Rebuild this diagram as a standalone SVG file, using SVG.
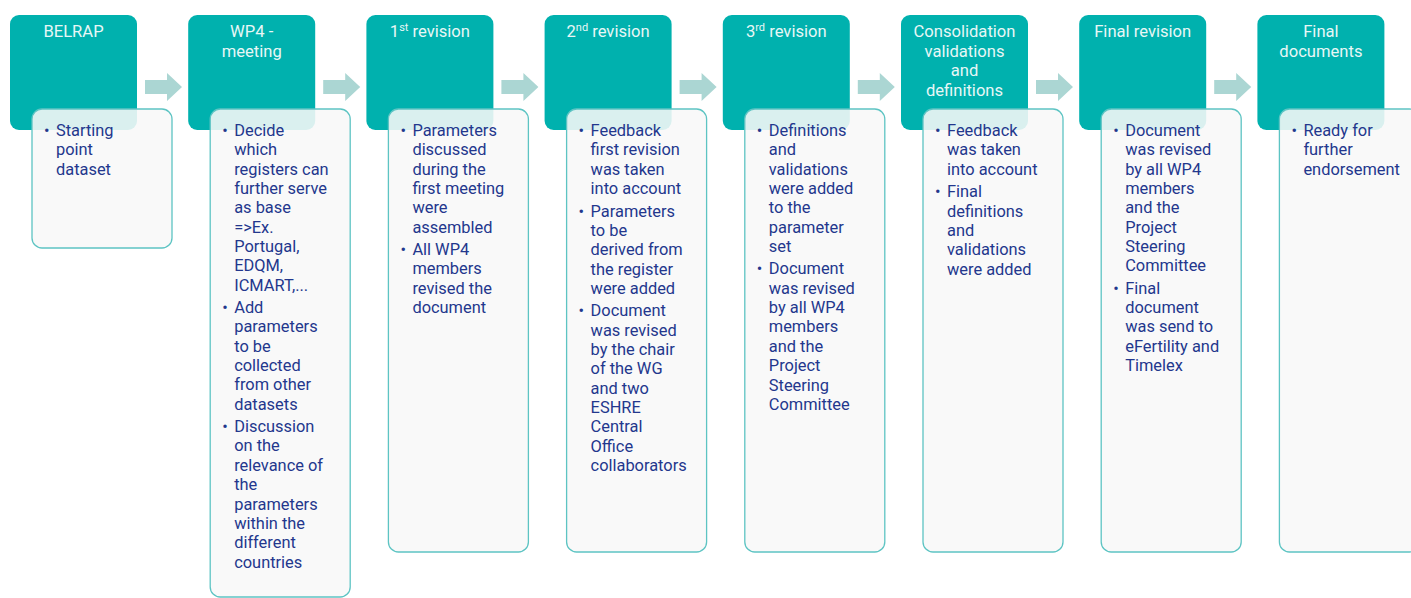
<svg xmlns="http://www.w3.org/2000/svg" width="1411" height="598" viewBox="0 0 1411 598">
<defs>
<style>
.bg{fill:#ffffff}
.head{fill:#00b1ae}
.card{fill:#f8f8f8;fill-opacity:0.88;stroke:#5dc4c3;stroke-width:1.3}
.arrow{fill:#abd6d3}
.title{font-family:Roboto,"Open Sans",sans-serif;font-size:16.6px;fill:#e8f7f6;text-anchor:middle}
.body{font-family:Roboto,"Open Sans",sans-serif;font-size:16.4px;fill:#23378d}
</style>
</defs>
<rect class="bg" x="0" y="0" width="1411" height="598"/>

<g id="connectors">
<path class="arrow" d="M145,80 H167 V73 L182,87 L167,101 V94 H145 Z"/>
<path class="arrow" d="M323.2,80 H345.2 V73 L360.2,87 L345.2,101 V94 H323.2 Z"/>
<path class="arrow" d="M501.4,80 H523.4 V73 L538.4,87 L523.4,101 V94 H501.4 Z"/>
<path class="arrow" d="M679.6,80 H701.6 V73 L716.6,87 L701.6,101 V94 H679.6 Z"/>
<path class="arrow" d="M857.8,80 H879.8 V73 L894.8,87 L879.8,101 V94 H857.8 Z"/>
<path class="arrow" d="M1036,80 H1058 V73 L1073,87 L1058,101 V94 H1036 Z"/>
<path class="arrow" d="M1214.2,80 H1236.2 V73 L1251.2,87 L1236.2,101 V94 H1214.2 Z"/>
</g>

<g id="belrap">
<rect class="head" x="10" y="15" width="127" height="115" rx="9"/>
<rect class="card" x="32" y="109" width="140" height="139" rx="10"/>
<text class="title" x="73.5" y="37">BELRAP</text>
<text class="body" x="44" y="136">•</text>
<text class="body" y="136"><tspan x="56">Starting</tspan><tspan x="56" dy="19.35">point</tspan><tspan x="56" dy="19.35">dataset</tspan></text>
</g>

<g id="wp4-meeting">
<rect class="head" x="188.2" y="15" width="127" height="115" rx="9"/>
<rect class="card" x="210.2" y="109" width="140" height="488" rx="10"/>
<text class="title" y="37"><tspan x="251.7">WP4 -</tspan><tspan x="251.7" dy="19.5">meeting</tspan></text>
<text class="body" x="222.2" y="136">•</text>
<text class="body" y="136"><tspan x="234.2">Decide</tspan><tspan x="234.2" dy="19.35">which</tspan><tspan x="234.2" dy="19.35">registers can</tspan><tspan x="234.2" dy="19.35">further serve</tspan><tspan x="234.2" dy="19.35">as base</tspan><tspan x="234.2" dy="19.35">=&gt;Ex.</tspan><tspan x="234.2" dy="19.35">Portugal,</tspan><tspan x="234.2" dy="19.35">EDQM,</tspan><tspan x="234.2" dy="19.35">ICMART,...</tspan></text>
<text class="body" x="222.2" y="313">•</text>
<text class="body" y="313"><tspan x="234.2">Add</tspan><tspan x="234.2" dy="19.35">parameters</tspan><tspan x="234.2" dy="19.35">to be</tspan><tspan x="234.2" dy="19.35">collected</tspan><tspan x="234.2" dy="19.35">from other</tspan><tspan x="234.2" dy="19.35">datasets</tspan></text>
<text class="body" x="222.2" y="432.1">•</text>
<text class="body" y="432.1"><tspan x="234.2">Discussion</tspan><tspan x="234.2" dy="19.35">on the</tspan><tspan x="234.2" dy="19.35">relevance of</tspan><tspan x="234.2" dy="19.35">the</tspan><tspan x="234.2" dy="19.35">parameters</tspan><tspan x="234.2" dy="19.35">within the</tspan><tspan x="234.2" dy="19.35">different</tspan><tspan x="234.2" dy="19.35">countries</tspan></text>
</g>

<g id="revision-1">
<rect class="head" x="366.4" y="15" width="127" height="115" rx="9"/>
<rect class="card" x="388.4" y="109" width="140" height="443" rx="10"/>
<text class="title" x="429.9" y="37">1<tspan font-size="11" dy="-6">st</tspan><tspan dy="6"> revision</tspan></text>
<text class="body" x="400.4" y="136">•</text>
<text class="body" y="136"><tspan x="412.4">Parameters</tspan><tspan x="412.4" dy="19.35">discussed</tspan><tspan x="412.4" dy="19.35">during the</tspan><tspan x="412.4" dy="19.35">first meeting</tspan><tspan x="412.4" dy="19.35">were</tspan><tspan x="412.4" dy="19.35">assembled</tspan></text>
<text class="body" x="400.4" y="255.1">•</text>
<text class="body" y="255.1"><tspan x="412.4">All WP4</tspan><tspan x="412.4" dy="19.35">members</tspan><tspan x="412.4" dy="19.35">revised the</tspan><tspan x="412.4" dy="19.35">document</tspan></text>
</g>

<g id="revision-2">
<rect class="head" x="544.6" y="15" width="127" height="115" rx="9"/>
<rect class="card" x="566.6" y="109" width="140" height="443" rx="10"/>
<text class="title" x="608.1" y="37">2<tspan font-size="11" dy="-6">nd</tspan><tspan dy="6"> revision</tspan></text>
<text class="body" x="578.6" y="136">•</text>
<text class="body" y="136"><tspan x="590.6">Feedback</tspan><tspan x="590.6" dy="19.35">first revision</tspan><tspan x="590.6" dy="19.35">was taken</tspan><tspan x="590.6" dy="19.35">into account</tspan></text>
<text class="body" x="578.6" y="216.5">•</text>
<text class="body" y="216.5"><tspan x="590.6">Parameters</tspan><tspan x="590.6" dy="19.35">to be</tspan><tspan x="590.6" dy="19.35">derived from</tspan><tspan x="590.6" dy="19.35">the register</tspan><tspan x="590.6" dy="19.35">were added</tspan></text>
<text class="body" x="578.6" y="316.3">•</text>
<text class="body" y="316.3"><tspan x="590.6">Document</tspan><tspan x="590.6" dy="19.35">was revised</tspan><tspan x="590.6" dy="19.35">by the chair</tspan><tspan x="590.6" dy="19.35">of the WG</tspan><tspan x="590.6" dy="19.35">and two</tspan><tspan x="590.6" dy="19.35">ESHRE</tspan><tspan x="590.6" dy="19.35">Central</tspan><tspan x="590.6" dy="19.35">Office</tspan><tspan x="590.6" dy="19.35">collaborators</tspan></text>
</g>

<g id="revision-3">
<rect class="head" x="722.8" y="15" width="127" height="115" rx="9"/>
<rect class="card" x="744.8" y="109" width="140" height="443" rx="10"/>
<text class="title" x="786.3" y="37">3<tspan font-size="11" dy="-6">rd</tspan><tspan dy="6"> revision</tspan></text>
<text class="body" x="756.8" y="136">•</text>
<text class="body" y="136"><tspan x="768.8">Definitions</tspan><tspan x="768.8" dy="19.35">and</tspan><tspan x="768.8" dy="19.35">validations</tspan><tspan x="768.8" dy="19.35">were added</tspan><tspan x="768.8" dy="19.35">to the</tspan><tspan x="768.8" dy="19.35">parameter</tspan><tspan x="768.8" dy="19.35">set</tspan></text>
<text class="body" x="756.8" y="274.4">•</text>
<text class="body" y="274.4"><tspan x="768.8">Document</tspan><tspan x="768.8" dy="19.35">was revised</tspan><tspan x="768.8" dy="19.35">by all WP4</tspan><tspan x="768.8" dy="19.35">members</tspan><tspan x="768.8" dy="19.35">and the</tspan><tspan x="768.8" dy="19.35">Project</tspan><tspan x="768.8" dy="19.35">Steering</tspan><tspan x="768.8" dy="19.35">Committee</tspan></text>
</g>

<g id="consolidation">
<rect class="head" x="901" y="15" width="127" height="115" rx="9"/>
<rect class="card" x="923" y="109" width="140" height="443" rx="10"/>
<text class="title" y="37"><tspan x="964.5">Consolidation</tspan><tspan x="964.5" dy="19.5">validations</tspan><tspan x="964.5" dy="19.5">and</tspan><tspan x="964.5" dy="19.5">definitions</tspan></text>
<text class="body" x="935" y="136">•</text>
<text class="body" y="136"><tspan x="947">Feedback</tspan><tspan x="947" dy="19.35">was taken</tspan><tspan x="947" dy="19.35">into account</tspan></text>
<text class="body" x="935" y="197.2">•</text>
<text class="body" y="197.2"><tspan x="947">Final</tspan><tspan x="947" dy="19.35">definitions</tspan><tspan x="947" dy="19.35">and</tspan><tspan x="947" dy="19.35">validations</tspan><tspan x="947" dy="19.35">were added</tspan></text>
</g>

<g id="final-revision">
<rect class="head" x="1079.2" y="15" width="127" height="115" rx="9"/>
<rect class="card" x="1101.2" y="109" width="140" height="443" rx="10"/>
<text class="title" x="1142.7" y="37">Final revision</text>
<text class="body" x="1113.2" y="136">•</text>
<text class="body" y="136"><tspan x="1125.2">Document</tspan><tspan x="1125.2" dy="19.35">was revised</tspan><tspan x="1125.2" dy="19.35">by all WP4</tspan><tspan x="1125.2" dy="19.35">members</tspan><tspan x="1125.2" dy="19.35">and the</tspan><tspan x="1125.2" dy="19.35">Project</tspan><tspan x="1125.2" dy="19.35">Steering</tspan><tspan x="1125.2" dy="19.35">Committee</tspan></text>
<text class="body" x="1113.2" y="293.7">•</text>
<text class="body" y="293.7"><tspan x="1125.2">Final</tspan><tspan x="1125.2" dy="19.35">document</tspan><tspan x="1125.2" dy="19.35">was send to</tspan><tspan x="1125.2" dy="19.35">eFertility and</tspan><tspan x="1125.2" dy="19.35">Timelex</tspan></text>
</g>

<g id="final-documents">
<rect class="head" x="1257.4" y="15" width="127" height="115" rx="9"/>
<rect class="card" x="1279.4" y="109" width="140" height="443" rx="10"/>
<text class="title" y="37"><tspan x="1320.9">Final</tspan><tspan x="1320.9" dy="19.5">documents</tspan></text>
<text class="body" x="1291.4" y="136">•</text>
<text class="body" y="136"><tspan x="1303.4">Ready for</tspan><tspan x="1303.4" dy="19.35">further</tspan><tspan x="1303.4" dy="19.35">endorsement</tspan></text>
</g>
</svg>
